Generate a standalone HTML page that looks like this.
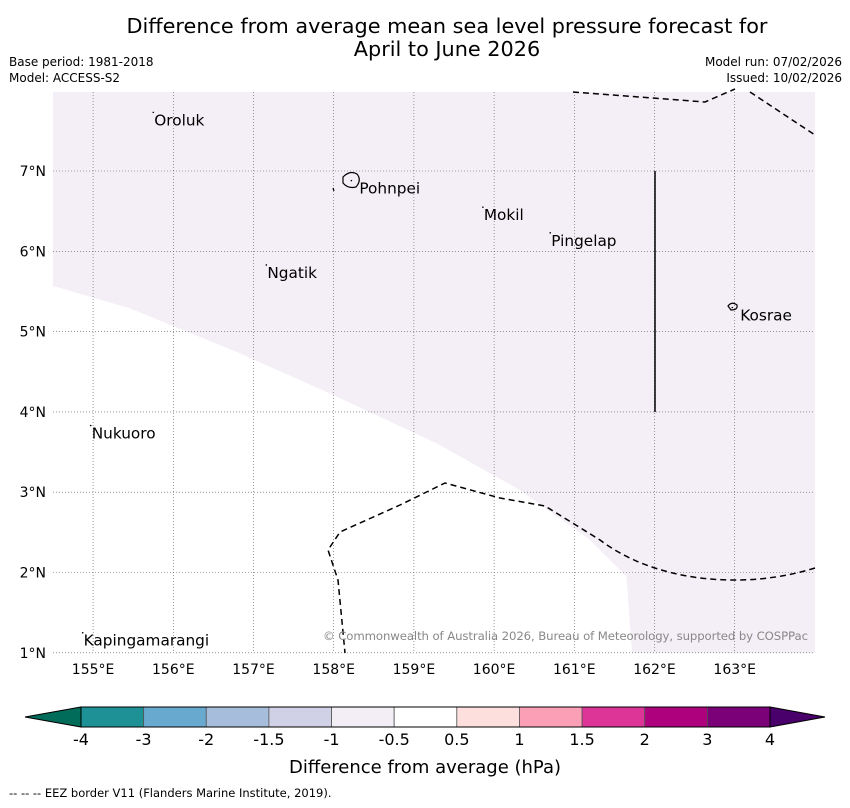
<!DOCTYPE html>
<html><head><meta charset="utf-8"><style>
body{margin:0;background:#fff;font-family:"DejaVu Sans","Liberation Sans",sans-serif}
svg text{font-family:"DejaVu Sans","Liberation Sans",sans-serif}
</style></head><body>
<svg id="c" width="850" height="804" viewBox="0 0 850 804" xmlns="http://www.w3.org/2000/svg">
<text x="447" y="33" font-size="20.8" text-anchor="middle">Difference from average mean sea level pressure forecast for</text>
<text x="447" y="56" font-size="20.8" text-anchor="middle">April to June 2026</text>
<text x="9" y="66" font-size="12">Base period: 1981-2018</text>
<text x="9" y="82" font-size="12">Model: ACCESS-S2</text>
<text x="842" y="66" font-size="12" text-anchor="end">Model run: 07/02/2026</text>
<text x="842" y="82" font-size="12" text-anchor="end">Issued: 10/02/2026</text>
<g id="map"></g>
<g id="cbar"></g>
<text x="425" y="773" font-size="18" text-anchor="middle">Difference from average (hPa)</text>
<text x="9" y="797" font-size="11.5">--  --  -- EEZ border V11 (Flanders Marine Institute, 2019).</text>
</svg>
<script>
const lonTicks=[155,156,157,158,159,160,161,162,163];
const latTicks=[1,2,3,4,5,6,7];
const placeNames=["Oroluk","Pohnpei","Mokil","Pingelap","Ngatik","Kosrae","Nukuoro","Kapingamarangi"];
const placeLon=[155.75,158.22,159.86,160.7,157.16,162.97,154.97,154.87];
const placeLat=[7.73,6.88,6.55,6.23,5.83,5.3,3.83,1.25];
const shadeLon=[154.5,155.46,156.83,157.95,159.3,160.3,161.18,161.65,161.72];
const shadeLat=[5.57,5.29,4.73,4.23,3.6,3.04,2.42,1.95,1.0];
const cbLevels=["-4","-3","-2","-1.5","-1","-0.5","0.5","1","1.5","2","3","4"];
const cbColors=["#1d9196","#67a9cf","#a6bddb","#d0d1e6","#f3eef6","#ffffff","#fde0dd","#fa9fb5","#dd3497","#ae017e","#7a0177"];
const NS="http://www.w3.org/2000/svg";
const X0=53,X1=815,Y0=92,Y1=653;
const x=lon=>X0+(lon-154.5)*80.2;
const y=lat=>171+(7-lat)*80.3;
function mk(t,a,p){const e=document.createElementNS(NS,t);for(const k in a)e.setAttribute(k,a[k]);p.appendChild(e);return e;}
const map=document.getElementById('map');
let d="M"+X0+","+Y0+" L"+X0+","+y(shadeLat[0]);
for(let i=0;i<shadeLon.length;i++)d+=" L"+x(shadeLon[i])+","+y(shadeLat[i]);
d+=" L"+X1+","+Y1+" L"+X1+","+Y0+" Z";
const sh=mk('path',{d:d,fill:'#f4eef6',stroke:'none'},map);


lonTicks.forEach(l=>{
 const g=mk('line',{x1:x(l),x2:x(l),y1:Y0,y2:Y1,stroke:'#555','stroke-width':0.6,'stroke-dasharray':'1,2'},map);
 
 
 const t=mk('text',{x:x(l),y:674,'font-size':14,'text-anchor':'middle'},map);t.textContent=l+"°E";
 
 
});
latTicks.forEach(l=>{
 const g=mk('line',{x1:X0,x2:X1,y1:y(l),y2:y(l),stroke:'#555','stroke-width':0.6,'stroke-dasharray':'1,2'},map);
 
 
 const t=mk('text',{x:46,y:y(l)+5,'font-size':14,'text-anchor':'end'},map);t.textContent=l+"°N";
 
 
});
const eez1=mk('path',{d:"M573,92 L705,102 L735,89 M750,92 L815,135",fill:'none',stroke:'#000','stroke-width':1.5,'stroke-dasharray':'6,4'},map);


const eez2=mk('path',{d:"M815,568 Q760,585 700,578 Q640,570 600,540 L545,506 L500,498 L445,483 L400,505 L340,532 L328,550 L338,580 L345,653",fill:'none',stroke:'#000','stroke-width':1.5,'stroke-dasharray':'6,4'},map);


const vl=mk('line',{x1:655,x2:655,y1:171,y2:412,stroke:'#000','stroke-width':1.5},map);


const pi=mk('path',{d:"M343,177 Q350,170 357,174 Q362,180 356,187 Q348,189 343,183 Z M333,188 L334,191",fill:'none',stroke:'#000','stroke-width':1.2},map);


const ki=mk('path',{d:"M728,306 Q732,301 737,305 Q738,310 731,310 Z",fill:'none',stroke:'#000','stroke-width':1.2},map);


placeNames.forEach((n,i)=>{
 const px=x(placeLon[i]),py=y(placeLat[i]);
 const dot=mk('circle',{cx:px,cy:py,r:0.8,fill:'#000'},map);
 
 
 const t=mk('text',{x:px+(n==="Pohnpei"||n==="Kosrae"?8:1),y:py+13,'font-size':15.3},map);t.textContent=n;
 
 
});
const cp=mk('text',{x:808,y:640,'font-size':11.7,fill:'#888','text-anchor':'end',textLength:485},map);
cp.textContent="© Commonwealth of Australia 2026, Bureau of Meteorology, supported by COSPPac";


const cb=document.getElementById('cbar');
const B0=81,B1=770,T=707,H=20,w=(B1-B0)/cbColors.length;
const lt=mk('polygon',{points:`25,${T+H/2} ${B0},${T} ${B0},${T+H}`,fill:'#016c59',stroke:'#000','stroke-width':1},cb);


const rt=mk('polygon',{points:`825,${T+H/2} ${B1},${T} ${B1},${T+H}`,fill:'#49006a',stroke:'#000','stroke-width':1},cb);


cbColors.forEach((c,i)=>{
 const r=mk('rect',{x:B0+i*w,y:T,width:w,height:H,fill:c,stroke:'#555','stroke-width':0.8},cb);
 
 
});
mk('rect',{x:B0,y:T,width:B1-B0,height:H,fill:'none',stroke:'#000','stroke-width':1},cb);
cbLevels.forEach((l,i)=>{
 const t=mk('text',{x:B0+i*w,y:745,'font-size':16,'text-anchor':'middle'},cb);t.textContent=l;
 
 
});
</script>
</body></html>
